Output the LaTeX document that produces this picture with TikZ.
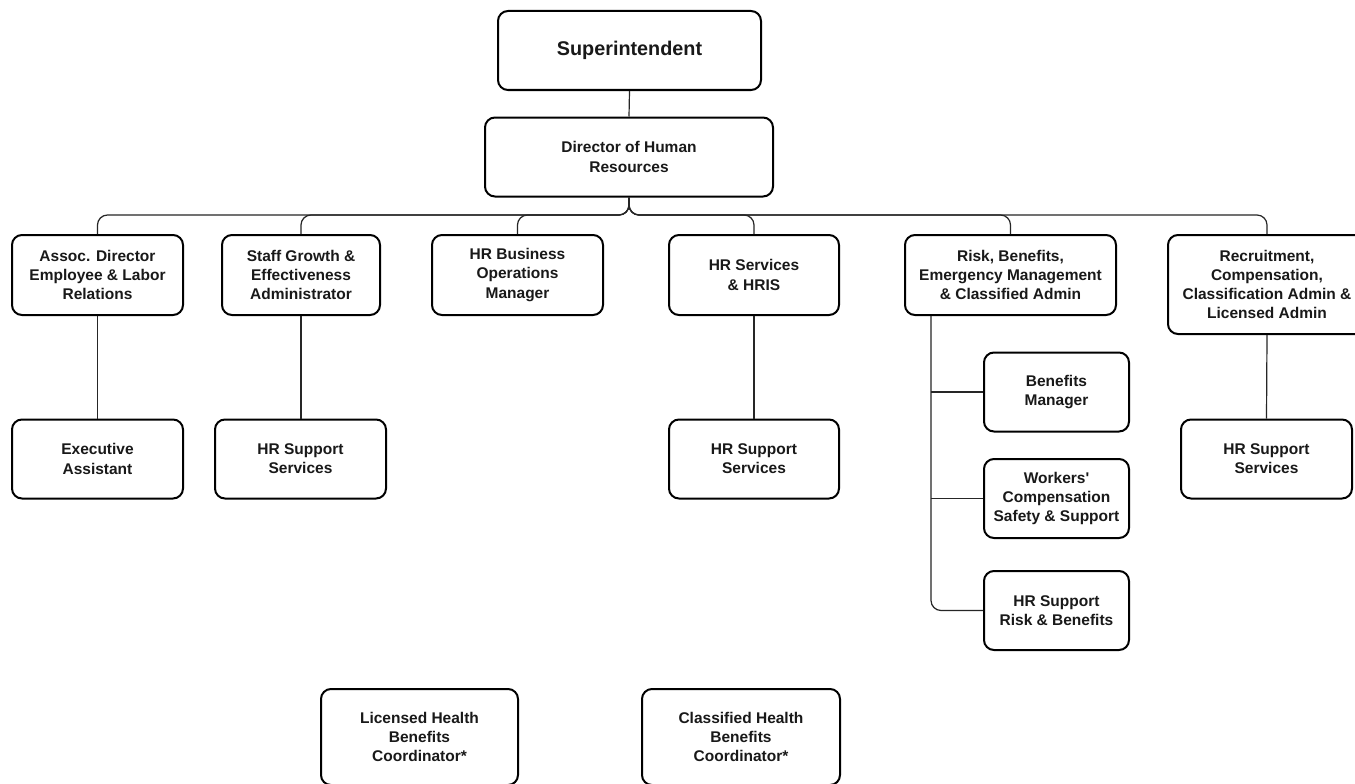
\documentclass[tikz,border=0pt]{standalone}
\usepackage{fontspec}
\setmainfont{Liberation Sans}[Ligatures=TeXOff]
\begin{document}
\begin{tikzpicture}[x=1pt,y=-1pt,
  box/.style={draw=black,line width=2pt,rounded corners=10pt,fill=white,align=center,
    inner sep=2pt,font=\bfseries\fontsize{15.5}{19.3}\selectfont,text=black!90},
  conn/.style={draw=black!85,line width=1.2pt}]
\useasboundingbox (0,0) rectangle (1355,784);
\fill[white] (0,0) rectangle (1355,784);
% top
\node[box,minimum width=263pt,minimum height=79pt,font=\bfseries\fontsize{19.8}{22}\selectfont] (sup) at (629.5,50.5) {Superintendent};
\node[box,minimum width=288pt,minimum height=79pt] (dir) at (629,157) {Director of Human\\Resources};
% row 1
\node[box,minimum width=171pt,minimum height=80pt] (assoc) at (97.5,275) {Assoc. Director\\Employee \& Labor\\Relations};
\node[box,minimum width=158pt,minimum height=80pt] (staff) at (301,275) {Staff Growth \&\\Effectiveness\\Administrator};
\node[box,minimum width=171pt,minimum height=80pt] (hrbus) at (517.5,275) {HR Business\\Operations\\Manager};
\node[box,minimum width=170pt,minimum height=80pt] (hrserv) at (754,275) {HR Services\\\& HRIS};
\node[box,minimum width=211pt,minimum height=80pt] (risk) at (1010.5,275) {Risk, Benefits,\\Emergency Management\\\& Classified Admin};
\node[box,minimum width=198pt,minimum height=99pt] (recr) at (1267,284.5) {Recruitment,\\Compensation,\\Classification Admin \&\\Licensed Admin};
% row 2
\node[box,minimum width=171pt,minimum height=79pt] (exec) at (97.5,459) {Executive\\Assistant};
\node[box,minimum width=171pt,minimum height=79pt] (hrsa) at (300.5,459) {HR Support\\Services};
\node[box,minimum width=170pt,minimum height=79pt] (hrsb) at (754,459) {HR Support\\Services};
\node[box,minimum width=171pt,minimum height=79pt] (hrsc) at (1266.5,459) {HR Support\\Services};
% risk sub
\node[box,minimum width=145pt,minimum height=79pt] (ben) at (1056.5,392) {Benefits\\Manager};
\node[box,minimum width=145pt,minimum height=79pt] (work) at (1056.5,498.5) {Workers'\\Compensation\\Safety \& Support};
\node[box,minimum width=145pt,minimum height=79pt] (hrsr) at (1056.5,610.5) {HR Support\\Risk \& Benefits};
% bottom
\node[box,minimum width=197pt,minimum height=96pt] (lic) at (419.5,737) {Licensed Health\\Benefits\\Coordinator*};
\node[box,minimum width=198pt,minimum height=96pt] (cls) at (741,737) {Classified Health\\Benefits\\Coordinator*};
% connectors
\draw[conn] (sup.south) -- (dir.south |- dir.north);
\foreach \c in {assoc,staff,hrbus,hrserv,risk,recr}{
  \draw[conn,rounded corners=10pt] (dir.south) |- ([yshift=19pt]\c.north) -- (\c.north);
}
\draw[conn] (assoc.south) -- (exec.north);
\draw[conn] (staff.south) -- (staff.south |- hrsa.north);
\draw[conn] (hrserv.south) -- (hrsb.north);
\draw[conn] (recr.south) -- (hrsc.north);
\coordinate (rb) at ([xshift=27pt]risk.south west);
\draw[conn,rounded corners=10pt] (rb) |- (hrsr.west);
\draw[conn] (rb |- ben.west) -- (ben.west);
\draw[conn] (rb |- work.west) -- (work.west);
\end{tikzpicture}
\end{document}
